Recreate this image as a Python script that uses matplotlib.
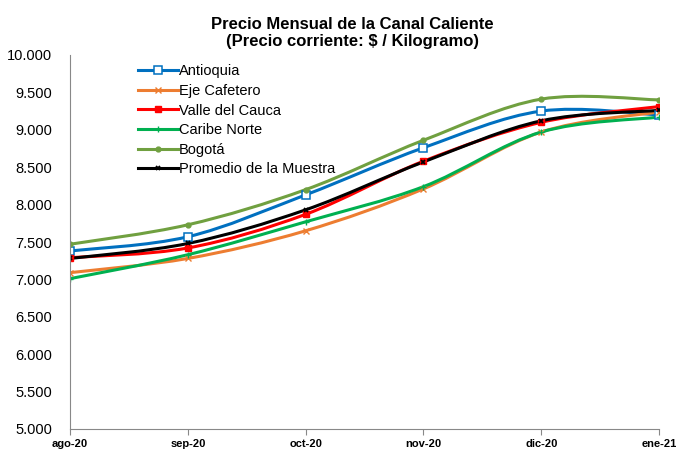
import matplotlib.pyplot as plt
from matplotlib.path import Path
from matplotlib.patches import PathPatch
from matplotlib.ticker import FuncFormatter
import numpy as np

plt.rcParams['font.family'] = ['Liberation Sans', 'DejaVu Sans']

months = ["ago-20", "sep-20", "oct-20", "nov-20", "dic-20", "ene-21"]

antioquia = [7380, 7570, 8130, 8760, 9250, 9200]
eje_cafetero = [7090, 7280, 7650, 8210, 8970, 9240]
valle = [7290, 7420, 7870, 8580, 9100, 9310]
caribe = [7010, 7330, 7770, 8240, 8970, 9170]
bogota = [7470, 7730, 8200, 8860, 9410, 9400]
promedio = [7280, 7480, 7930, 8570, 9120, 9260]

series = [
    ("Antioquia", antioquia, "#0070C0", dict(marker="s", markersize=5.5, markerfacecolor="white", markeredgewidth=1.1)),
    ("Eje Cafetero", eje_cafetero, "#ED7D31", dict(marker="x", markersize=5, markeredgewidth=1.0)),
    ("Valle del Cauca", valle, "#FF0000", dict(marker="s", markersize=4.5)),
    ("Caribe Norte", caribe, "#00B050", dict(marker="+", markersize=5, markeredgewidth=1.0)),
    ("Bogotá", bogota, "#70A040", dict(marker="o", markersize=3.5)),
    ("Promedio de la Muestra", promedio, "#000000", dict(marker="x", markersize=3.5, markeredgewidth=1.3)),
]


def smooth_path(x, y):
    # curva suavizada estilo Excel (bezier con tension 1/6)
    pts = np.column_stack([x, y]).astype(float)
    ext = np.vstack([pts[0], pts, pts[-1]])
    verts = [pts[0]]
    codes = [Path.MOVETO]
    for i in range(len(pts) - 1):
        p0, p1, p2, p3 = ext[i], ext[i + 1], ext[i + 2], ext[i + 3]
        c1 = p1 + (p2 - p0) / 6.0
        c2 = p2 - (p3 - p1) / 6.0
        verts += [c1, c2, p2]
        codes += [Path.CURVE4] * 3
    return Path(verts, codes)


fig = plt.figure(figsize=(6.76, 4.5), dpi=100)
ax = fig.add_axes([70 / 676, 1 - 429 / 450, (659 - 70) / 676, (429 - 55) / 450])

x = np.arange(len(months))
handles = []
for name, vals, color, mk in series:
    patch = PathPatch(smooth_path(x, vals), facecolor="none", edgecolor=color,
                      linewidth=2.2, transform=ax.transData, capstyle="round")
    ax.add_patch(patch)
    ax.plot(x, vals, linestyle="none", color=color, **mk)
    h, = ax.plot([], [], color=color, linewidth=2.2, label=name, **mk)
    handles.append(h)

ax.set_xlim(0, len(months) - 1)
ax.set_ylim(5000, 10000)
ax.set_yticks(np.arange(5000, 10001, 500))
ax.yaxis.set_major_formatter(FuncFormatter(lambda v, p: f"{v:,.0f}".replace(",", ".")))
ax.set_xticks(x)
ax.set_xticklabels(months, fontsize=8, fontweight="bold")
ax.tick_params(axis="y", labelsize=10.5, length=0, pad=13)
ax.tick_params(axis="x", length=4, color="#888888", pad=3)

for s in ["top", "right"]:
    ax.spines[s].set_visible(False)
for s in ["left", "bottom"]:
    ax.spines[s].set_color("#888888")

ax.legend(handles=handles, loc="upper left", bbox_to_anchor=(0.1, 1.0), frameon=False,
          fontsize=10.5, handlelength=2.7, handletextpad=0.1, labelspacing=0.38,
          borderaxespad=0.25)

fig.text(0.521, 0.963, "Precio Mensual de la Canal Caliente\n(Precio corriente: $ / Kilogramo)",
         ha="center", va="top", fontsize=12, fontweight="bold", linespacing=1.2)

fig.savefig("out.png", dpi=100)
